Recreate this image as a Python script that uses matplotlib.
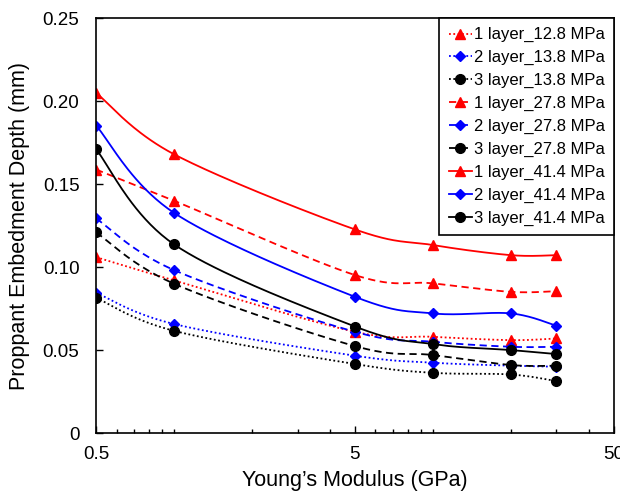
import numpy as np
import matplotlib
matplotlib.use("Agg")
import matplotlib.pyplot as plt
from matplotlib.ticker import FixedLocator, NullFormatter, LogLocator

plt.rcParams['font.family'] = ['Liberation Sans', 'DejaVu Sans']

modulus = [0.5, 1, 5, 10, 20, 30]

l1_12_8 = [0.106, 0.092, 0.061, 0.058, 0.056, 0.057]
l2_13_8 = [0.0845, 0.0657, 0.0466, 0.0424, 0.0406, 0.0400]
l3_13_8 = [0.0815, 0.0616, 0.0416, 0.0363, 0.0353, 0.0313]
l1_27_8 = [0.1588, 0.140, 0.0952, 0.0902, 0.0851, 0.0855]
l2_27_8 = [0.1293, 0.0982, 0.061, 0.055, 0.052, 0.052]
l3_27_8 = [0.1209, 0.090, 0.0524, 0.047, 0.041, 0.0406]
l1_41_4 = [0.205, 0.168, 0.1227, 0.1133, 0.1072, 0.1072]
l2_41_4 = [0.1853, 0.1327, 0.0821, 0.0721, 0.0721, 0.0647]
l3_41_4 = [0.171, 0.1137, 0.0642, 0.0536, 0.050, 0.0476]

labels = ["1 layer_12.8 MPa", "2 layer_13.8 MPa", "3 layer_13.8 MPa",
          "1 layer_27.8 MPa", "2 layer_27.8 MPa", "3 layer_27.8 MPa",
          "1 layer_41.4 MPa", "2 layer_41.4 MPa", "3 layer_41.4 MPa"]
series = [l1_12_8, l2_13_8, l3_13_8, l1_27_8, l2_27_8, l3_27_8, l1_41_4, l2_41_4, l3_41_4]
colors = ["#ff0000", "#0000ff", "#000000"] * 3
markers = ["^", "D", "o"] * 3
msizes = [7, 5, 7] * 3
styles = [(0, (1, 1.4)), (0, (1, 1.4)), (0, (1, 1.4)),
          (0, (4, 2.5)), (0, (4, 2.5)), (0, (4, 2.5)),
          "-", "-", "-"]

def smooth(xs, ys, n=40):
    X = np.log10(np.asarray(xs, float)) * 259.0
    Y = np.asarray(ys, float) * 1660.0
    P = np.column_stack([X, Y])
    pts = []
    m = len(P)
    for i in range(m - 1):
        p0 = P[i - 1] if i > 0 else P[i]
        p1 = P[i]
        p2 = P[i + 1]
        p3 = P[i + 2] if i + 2 < m else P[i + 1]
        c1 = p1 + (p2 - p0) / 6.0
        c2 = p2 - (p3 - p1) / 6.0
        t = np.linspace(0, 1, n, endpoint=(i == m - 2))[:, None]
        b = ((1 - t) ** 3) * p1 + 3 * ((1 - t) ** 2) * t * c1 + 3 * (1 - t) * t ** 2 * c2 + t ** 3 * p2
        pts.append(b)
    B = np.vstack(pts)
    return 10 ** (B[:, 0] / 259.0), B[:, 1] / 1660.0

fig = plt.figure(figsize=(6.2, 4.91), dpi=100)
ax = fig.add_axes([0.155, 0.118, 0.835, 0.845])

handles = []
for ys, lab, c, mk, ms, ls in zip(series, labels, colors, markers, msizes, styles):
    sx, sy = smooth(modulus, ys)
    ax.plot(sx, sy, color=c, lw=1.3, linestyle=ls)
    ax.plot(modulus, ys, linestyle='none', marker=mk, color=c, markersize=ms)
    h, = ax.plot([], [], color=c, lw=1.3, linestyle=ls, marker=mk, markersize=ms)
    handles.append(h)

ax.set_xscale('log')
ax.set_xlim(0.5, 50)
ax.set_ylim(0, 0.25)
ax.xaxis.set_major_locator(FixedLocator([0.5, 5, 50]))
ax.set_xticklabels(["0.5", "5", "50"])
ax.xaxis.set_minor_locator(LogLocator(base=10, subs=np.arange(1, 10)))
ax.xaxis.set_minor_formatter(NullFormatter())
ax.set_yticks([0, 0.05, 0.10, 0.15, 0.20, 0.25])
ax.set_yticklabels(["0", "0.05", "0.10", "0.15", "0.20", "0.25"])
ax.tick_params(axis='both', which='both', direction='in', labelsize=13.5, width=1, color='black')
ax.tick_params(axis='both', which='major', length=5)
ax.tick_params(axis='y', which='major', pad=12)
ax.tick_params(axis='x', which='major', pad=9)
ax.tick_params(axis='x', which='minor', length=3)
for sp in ax.spines.values():
    sp.set_linewidth(1.2)

ax.set_xlabel("Young’s Modulus (GPa)", fontsize=15.5, labelpad=5)
ax.set_ylabel("Proppant Embedment Depth (mm)", fontsize=15.5, labelpad=9)

leg = ax.legend(handles, labels, loc='upper right', bbox_to_anchor=(1.0, 1.0),
                fontsize=12, frameon=True, fancybox=False, framealpha=1,
                edgecolor='black', borderaxespad=0.0, handlelength=1.4,
                handletextpad=0.1, labelspacing=0.47, borderpad=0.55)
leg.get_frame().set_linewidth(1.2)

fig.savefig("out.png", dpi=100)
